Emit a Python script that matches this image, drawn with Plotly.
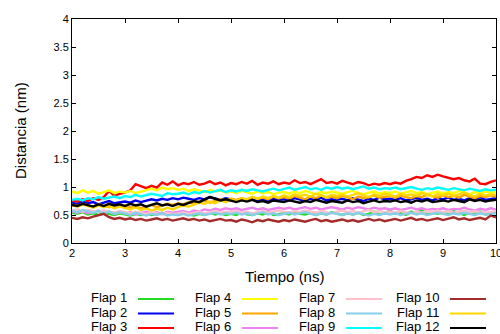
import plotly.graph_objects as go

# Time axis: 2.0 .. 10.0 ns, one sample every 0.1 ns
tiempo = [round(2.0 + 0.1 * i, 1) for i in range(81)]

flap1 = [0.54, 0.52, 0.55, 0.51, 0.53, 0.50, 0.54, 0.52, 0.50, 0.53,
         0.51, 0.49, 0.52, 0.50, 0.53, 0.50, 0.52, 0.54, 0.50, 0.52,
         0.50, 0.53, 0.51, 0.49, 0.52, 0.50, 0.54, 0.51, 0.53, 0.50,
         0.52, 0.50, 0.54, 0.51, 0.50, 0.53, 0.51, 0.55, 0.50, 0.52,
         0.53, 0.51, 0.56, 0.52, 0.51, 0.54, 0.50, 0.53, 0.51, 0.55,
         0.52, 0.50, 0.53, 0.51, 0.54, 0.50, 0.52, 0.56, 0.51, 0.53,
         0.58, 0.52, 0.54, 0.50, 0.56, 0.53, 0.59, 0.51, 0.54, 0.52,
         0.55, 0.51, 0.57, 0.53, 0.50, 0.54, 0.52, 0.56, 0.51, 0.53,
         0.55]

flap2 = [0.72, 0.70, 0.74, 0.71, 0.73, 0.69, 0.72, 0.75, 0.71, 0.73,
         0.74, 0.72, 0.76, 0.73, 0.75, 0.78, 0.76, 0.79, 0.77, 0.80,
         0.78, 0.81, 0.79, 0.77, 0.80, 0.78, 0.82, 0.79, 0.77, 0.80,
         0.78, 0.76, 0.79, 0.77, 0.80, 0.76, 0.78, 0.75, 0.79, 0.77,
         0.78, 0.76, 0.80, 0.77, 0.75, 0.79, 0.77, 0.81, 0.76, 0.78,
         0.77, 0.79, 0.76, 0.80, 0.78, 0.75, 0.79, 0.77, 0.81, 0.78,
         0.79, 0.77, 0.80, 0.76, 0.78, 0.81, 0.77, 0.79, 0.76, 0.80,
         0.78, 0.81, 0.77, 0.79, 0.76, 0.80, 0.78, 0.82, 0.77, 0.79,
         0.80]

flap3 = [0.76, 0.74, 0.78, 0.75, 0.80, 0.77, 0.82, 0.93, 0.84, 0.88,
         0.90, 0.94, 1.05, 1.01, 0.98, 1.02, 0.99, 1.08, 1.04, 1.10,
         1.03, 1.07, 1.05, 1.09, 1.04, 1.06, 1.10, 1.05, 1.08, 1.03,
         1.07, 1.05, 1.09, 1.06, 1.11, 1.04, 1.08, 1.06, 1.10, 1.05,
         1.08, 1.06, 1.12, 1.07, 1.09, 1.05, 1.10, 1.14, 1.07, 1.09,
         1.06, 1.11, 1.08, 1.05, 1.09, 1.07, 1.03, 1.06, 1.04, 1.07,
         1.05, 1.08, 1.06, 1.11, 1.14, 1.18, 1.16, 1.21, 1.18, 1.22,
         1.19, 1.17, 1.14, 1.16, 1.12, 1.10, 1.15, 1.06, 1.05, 1.09,
         1.12]

flap4 = [0.92, 0.89, 0.94, 0.90, 0.93, 0.88, 0.91, 0.94, 0.89, 0.92,
         0.90, 0.93, 0.89, 0.92, 0.95, 0.97, 0.94, 0.99, 0.96, 0.98,
         0.95, 0.97, 0.93, 0.96, 0.94, 0.91, 0.95, 0.92, 0.94, 0.90,
         0.92, 0.89, 0.93, 0.90, 0.88, 0.92, 0.89, 0.91, 0.87, 0.90,
         0.91, 0.88, 0.92, 0.89, 0.93, 0.90, 0.87, 0.91, 0.89, 0.92,
         0.90, 0.88, 0.91, 0.93, 0.89, 0.87, 0.90, 0.92, 0.88, 0.91,
         0.89, 0.92, 0.88, 0.90, 0.93, 0.89, 0.91, 0.87, 0.90, 0.92,
         0.88, 0.91, 0.89, 0.93, 0.90, 0.87, 0.91, 0.89, 0.92, 0.90,
         0.91]

flap5 = [0.68, 0.66, 0.70, 0.67, 0.65, 0.69, 0.66, 0.64, 0.68, 0.65,
         0.67, 0.63, 0.66, 0.62, 0.65, 0.68, 0.64, 0.67, 0.70, 0.68,
         0.71, 0.69, 0.73, 0.70, 0.74, 0.76, 0.72, 0.75, 0.78, 0.76,
         0.79, 0.77, 0.80, 0.78, 0.82, 0.79, 0.81, 0.78, 0.83, 0.80,
         0.82, 0.79, 0.84, 0.81, 0.78, 0.83, 0.80, 0.85, 0.81, 0.83,
         0.80, 0.84, 0.81, 0.78, 0.83, 0.80, 0.82, 0.85, 0.81, 0.83,
         0.84, 0.81, 0.85, 0.82, 0.80, 0.84, 0.82, 0.86, 0.83, 0.81,
         0.85, 0.82, 0.84, 0.81, 0.86, 0.83, 0.80, 0.84, 0.82, 0.85,
         0.83]

flap6 = [0.56, 0.54, 0.57, 0.53, 0.55, 0.58, 0.54, 0.56, 0.52, 0.55,
         0.53, 0.55, 0.51, 0.54, 0.56, 0.53, 0.55, 0.52, 0.56, 0.54,
         0.55, 0.57, 0.54, 0.58, 0.56, 0.60, 0.58, 0.61, 0.59, 0.62,
         0.60, 0.62, 0.59, 0.61, 0.63, 0.60, 0.62, 0.59, 0.61, 0.63,
         0.61, 0.63, 0.60, 0.62, 0.64, 0.61, 0.63, 0.60, 0.62, 0.64,
         0.62, 0.60, 0.63, 0.61, 0.64, 0.62, 0.60, 0.63, 0.61, 0.62,
         0.60, 0.62, 0.59, 0.61, 0.63, 0.60, 0.62, 0.59, 0.61, 0.60,
         0.62, 0.59, 0.61, 0.60, 0.63, 0.60, 0.58, 0.61, 0.59, 0.62,
         0.60]

flap7 = [0.58, 0.60, 0.56, 0.59, 0.57, 0.55, 0.58, 0.56, 0.54, 0.57,
         0.55, 0.53, 0.56, 0.54, 0.52, 0.55, 0.53, 0.51, 0.54, 0.52,
         0.53, 0.55, 0.52, 0.54, 0.56, 0.53, 0.55, 0.57, 0.54, 0.56,
         0.55, 0.57, 0.54, 0.56, 0.53, 0.55, 0.57, 0.54, 0.56, 0.58,
         0.56, 0.54, 0.57, 0.55, 0.58, 0.56, 0.54, 0.57, 0.55, 0.53,
         0.56, 0.58, 0.55, 0.57, 0.54, 0.56, 0.59, 0.55, 0.57, 0.54,
         0.56, 0.54, 0.57, 0.55, 0.53, 0.56, 0.54, 0.57, 0.55, 0.58,
         0.55, 0.57, 0.54, 0.56, 0.58, 0.55, 0.57, 0.54, 0.56, 0.55,
         0.57]

flap8 = [0.58, 0.55, 0.59, 0.56, 0.54, 0.57, 0.53, 0.56, 0.52, 0.55,
         0.53, 0.50, 0.54, 0.51, 0.49, 0.52, 0.50, 0.53, 0.49, 0.51,
         0.50, 0.52, 0.49, 0.51, 0.53, 0.50, 0.52, 0.54, 0.51, 0.53,
         0.52, 0.54, 0.51, 0.53, 0.50, 0.52, 0.55, 0.51, 0.53, 0.50,
         0.52, 0.54, 0.51, 0.53, 0.55, 0.52, 0.50, 0.53, 0.51, 0.54,
         0.52, 0.50, 0.53, 0.51, 0.54, 0.52, 0.49, 0.52, 0.50, 0.53,
         0.51, 0.53, 0.50, 0.52, 0.54, 0.51, 0.53, 0.50, 0.52, 0.54,
         0.52, 0.50, 0.53, 0.51, 0.54, 0.52, 0.50, 0.53, 0.51, 0.52,
         0.53]

flap9 = [0.77, 0.79, 0.76, 0.80, 0.78, 0.82, 0.79, 0.81, 0.83, 0.80,
         0.84, 0.82, 0.86, 0.83, 0.85, 0.88, 0.86, 0.84, 0.89, 0.87,
         0.88, 0.90, 0.87, 0.91, 0.89, 0.93, 0.90, 0.92, 0.95, 0.91,
         0.94, 0.92, 0.95, 0.93, 0.96, 0.94, 0.92, 0.95, 0.97, 0.94,
         0.96, 0.99, 0.95, 0.97, 1.00, 0.96, 0.98, 0.95, 0.99, 0.97,
         1.00, 0.97, 0.99, 0.96, 0.98, 1.01, 0.97, 0.99, 0.96, 0.98,
         0.97, 0.99, 0.96, 0.98, 1.00, 0.97, 0.95, 0.98, 0.96, 0.99,
         0.97, 0.95, 0.98, 0.96, 0.94, 0.97, 0.95, 0.93, 0.96, 0.94,
         0.95]

flap10 = [0.45, 0.43, 0.46, 0.44, 0.47, 0.50, 0.52, 0.46, 0.43, 0.45,
          0.42, 0.44, 0.41, 0.43, 0.40, 0.42, 0.44, 0.41, 0.43, 0.40,
          0.42, 0.44, 0.41, 0.43, 0.40, 0.42, 0.39, 0.41, 0.43, 0.40,
          0.41, 0.38, 0.42, 0.40, 0.37, 0.41, 0.39, 0.42, 0.40, 0.38,
          0.41, 0.39, 0.42, 0.40, 0.38, 0.41, 0.43, 0.39, 0.41, 0.38,
          0.40, 0.42, 0.39, 0.41, 0.38, 0.40, 0.43, 0.40, 0.42, 0.39,
          0.41, 0.43, 0.40, 0.42, 0.45, 0.41, 0.43, 0.40, 0.42, 0.44,
          0.41, 0.43, 0.46, 0.42, 0.44, 0.41, 0.43, 0.45, 0.42, 0.49,
          0.46]

flap11 = [0.68, 0.65, 0.69, 0.66, 0.63, 0.67, 0.64, 0.66, 0.62, 0.65,
          0.63, 0.60, 0.64, 0.59, 0.62, 0.58, 0.61, 0.59, 0.63, 0.60,
          0.64, 0.67, 0.65, 0.69, 0.72, 0.70, 0.74, 0.71, 0.76, 0.73,
          0.78, 0.75, 0.80, 0.77, 0.82, 0.79, 0.83, 0.80, 0.84, 0.81,
          0.85, 0.82, 0.87, 0.84, 0.86, 0.83, 0.88, 0.85, 0.82, 0.86,
          0.84, 0.87, 0.83, 0.86, 0.89, 0.85, 0.82, 0.87, 0.84, 0.88,
          0.86, 0.83, 0.88, 0.85, 0.87, 0.84, 0.89, 0.86, 0.83, 0.87,
          0.85, 0.88, 0.84, 0.87, 0.90, 0.86, 0.83, 0.88, 0.85, 0.87,
          0.86]

flap12 = [0.68, 0.66, 0.70, 0.67, 0.65, 0.69, 0.66, 0.70, 0.67, 0.69,
          0.66, 0.70, 0.67, 0.69, 0.65, 0.68, 0.71, 0.67, 0.69, 0.66,
          0.70, 0.68, 0.72, 0.75, 0.73, 0.78, 0.82, 0.79, 0.76, 0.78,
          0.75, 0.73, 0.76, 0.74, 0.77, 0.73, 0.75, 0.72, 0.76, 0.74,
          0.73, 0.76, 0.74, 0.72, 0.75, 0.73, 0.77, 0.74, 0.72, 0.75,
          0.74, 0.72, 0.76, 0.73, 0.75, 0.71, 0.74, 0.76, 0.73, 0.75,
          0.74, 0.76, 0.73, 0.75, 0.72, 0.76, 0.74, 0.77, 0.73, 0.75,
          0.76, 0.74, 0.77, 0.75, 0.73, 0.78, 0.75, 0.77, 0.74, 0.76,
          0.77]

nombres = ["Flap 1", "Flap 2", "Flap 3", "Flap 4", "Flap 5", "Flap 6",
           "Flap 7", "Flap 8", "Flap 9", "Flap 10", "Flap 11", "Flap 12"]
series = [flap1, flap2, flap3, flap4, flap5, flap6,
          flap7, flap8, flap9, flap10, flap11, flap12]
colores = ["#22dd22", "#0000ee", "#ff0000", "#ffff00", "#ffa500", "#ee82ee",
           "#ffc0cb", "#87ceeb", "#00ffff", "#a52a2a", "#ffd700", "#000000"]

x_ticks = [2, 3, 4, 5, 6, 7, 8, 9, 10]
y_ticks = [0, 0.5, 1, 1.5, 2, 2.5, 3, 3.5, 4]
y_labels = ["0", "0.5", "1", "1.5", "2", "2.5", "3", "3.5", "4"]

FONT = "Liberation Sans, Arial, sans-serif"
W, H = 500, 334
ML, MR, MT, MB = 72, 4, 19, 91

fig = go.Figure()
for nombre, ys, col in zip(nombres, series, colores):
    fig.add_trace(go.Scatter(x=tiempo, y=ys, mode="lines", name=nombre,
                             line=dict(color=col, width=2.4),
                             showlegend=False))

# Key laid out in 3 rows x 4 columns: right-justified label, sample line after it
annotations = []
shapes = []
col_text_right = [129, 233, 337, 441]
col_line_x0 = [138, 242, 346, 450]
row_y = [297.5, 312, 326.5]
for k, (nombre, col) in enumerate(zip(nombres, colores)):
    c, r = divmod(k, 3)
    ypx = row_y[r]
    annotations.append(dict(
        text=nombre, xref="paper", yref="paper",
        x=(col_text_right[c] - ML) / (W - ML - MR),
        y=(H - MB - ypx) / (H - MT - MB),
        xanchor="right", yanchor="middle", showarrow=False,
        font=dict(family=FONT, size=13, color="#000000")))
    shapes.append(dict(
        type="line", xref="paper", yref="paper",
        x0=(col_line_x0[c] - ML) / (W - ML - MR),
        x1=(col_line_x0[c] + 36 - ML) / (W - ML - MR),
        y0=(H - MB - ypx - 1.5) / (H - MT - MB),
        y1=(H - MB - ypx - 1.5) / (H - MT - MB),
        line=dict(color=col, width=2)))

# Axis titles
annotations.append(dict(
    text="Tiempo (ns)", xref="paper", yref="paper",
    x=0.5, y=(H - MB - 276) / (H - MT - MB),
    xanchor="center", yanchor="middle", showarrow=False,
    font=dict(family=FONT, size=15, color="#000000")))
annotations.append(dict(
    text="Distancia (nm)", xref="paper", yref="paper",
    x=(20 - ML) / (W - ML - MR), y=(H - MB - 131) / (H - MT - MB),
    xanchor="center", yanchor="middle", showarrow=False, textangle=-90,
    font=dict(family=FONT, size=15, color="#000000")))

axis_common = dict(showgrid=False, zeroline=False, showline=True,
                   linecolor="#000000", linewidth=1, mirror="ticks",
                   ticks="inside", ticklen=4, tickwidth=1, tickcolor="#000000",
                   ticklabeloverflow="allow", automargin=False,
                   tickfont=dict(family=FONT, size=11, color="#000000"))

fig.update_layout(
    width=W, height=H,
    margin=dict(l=ML, r=MR, t=MT, b=MB, autoexpand=False),
    paper_bgcolor="white", plot_bgcolor="white",
    xaxis=dict(range=[2, 10], tickmode="array", tickvals=x_ticks,
               ticktext=[str(v) for v in x_ticks], **axis_common),
    yaxis=dict(range=[0, 4], tickmode="array", tickvals=y_ticks,
               ticktext=y_labels, **axis_common),
    annotations=annotations,
    shapes=shapes,
)

fig.write_html("out.html")
